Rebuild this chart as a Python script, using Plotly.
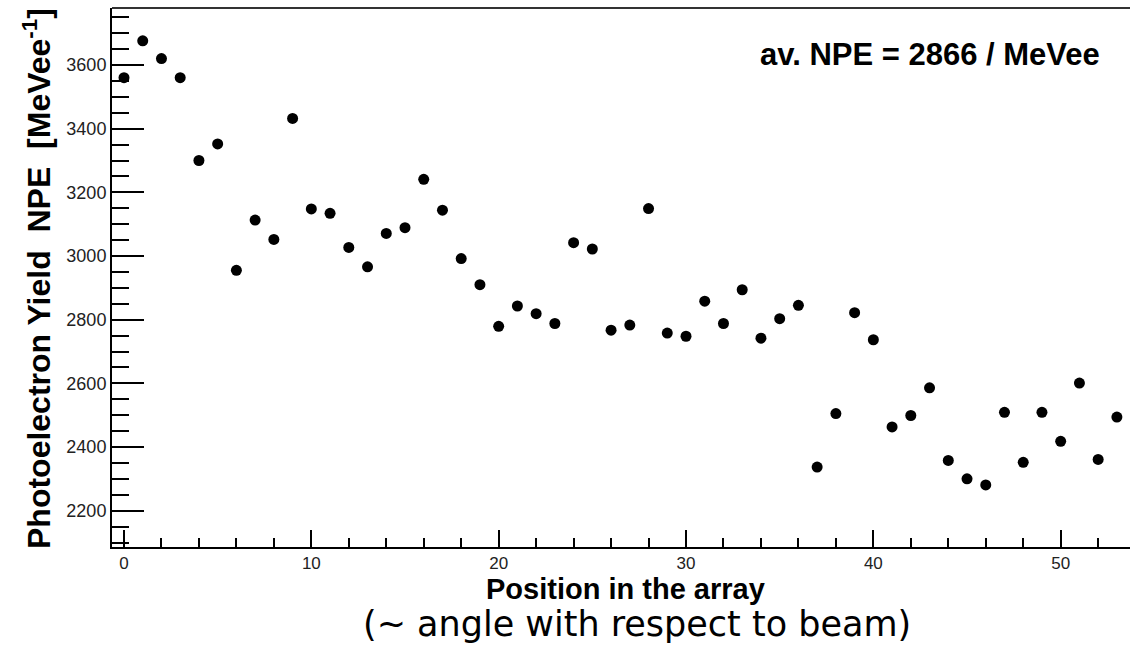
import plotly.graph_objects as go

position = list(range(54))
npe = [3560, 3676, 3620, 3560, 3300, 3352, 2955, 3113, 3052, 3432,
       3148, 3134, 3027, 2966, 3071, 3089, 3241, 3144, 2992, 2910,
       2779, 2843, 2819, 2788, 3042, 3022, 2767, 2783, 3149, 2758,
       2748, 2858, 2788, 2894, 2742, 2803, 2845, 2337, 2505, 2822,
       2737, 2463, 2499, 2586, 2358, 2300, 2281, 2509, 2352, 2509,
       2418, 2601, 2361, 2494]

x_tick_vals = [0, 10, 20, 30, 40, 50]
y_tick_vals = [2200, 2400, 2600, 2800, 3000, 3200, 3400, 3600]

W, H = 1130, 647
ML, MR, MT, MB = 112, 0, 8, 100
PW = W - ML - MR
PH = H - MT - MB

def px_x(p):
    return (p - ML) / PW

def px_y(p):
    return 1 - (p - MT) / PH

fig = go.Figure()
fig.add_trace(go.Scatter(
    x=position, y=npe, mode="markers",
    marker=dict(color="black", size=11, symbol="circle"),
    showlegend=False, hoverinfo="x+y",
))

tickfont = dict(family="Liberation Sans, Arial, sans-serif", size=17, color="#222")

fig.update_layout(
    width=W, height=H,
    margin=dict(l=ML, r=MR, t=MT, b=MB, pad=0),
    paper_bgcolor="white", plot_bgcolor="white",
    xaxis=dict(
        range=[-0.64, 53.70], tickvals=x_tick_vals,
        ticks="inside", ticklen=17, tickwidth=1.5, tickcolor="black",
        minor=dict(dtick=2, tick0=0, ticks="inside", ticklen=9, tickwidth=1.5, tickcolor="black"),
        showline=True, linecolor="black", linewidth=2,
        showgrid=False, zeroline=False, tickfont=tickfont,
    ),
    yaxis=dict(
        range=[2086, 3779], tickvals=y_tick_vals,
        ticks="inside", ticklen=32, tickwidth=1.5, tickcolor="black",
        minor=dict(dtick=50, tick0=0, ticks="inside", ticklen=17, tickwidth=1.5, tickcolor="black"),
        showline=True, linecolor="black", linewidth=2,
        showgrid=False, zeroline=False,
        tickfont=dict(family="Liberation Sans, Arial, sans-serif", size=18, color="#222"),
    ),
    shapes=[dict(type="line", xref="paper", yref="paper", x0=0, x1=1, y0=1, y1=1,
                 line=dict(color="#333", width=2))],
)

fig.add_annotation(
    text="<b>Photoelectron Yield  NPE  [MeVee<sup>-1</sup>]</b>",
    xref="paper", yref="paper", x=px_x(37), y=px_y(279),
    xanchor="center", yanchor="middle", textangle=-90, showarrow=False,
    font=dict(family="Liberation Sans, Arial, sans-serif", size=32, color="black"),
)
fig.add_annotation(
    text="<b>Position in the array</b>",
    xref="paper", yref="paper", x=px_x(625), y=px_y(589),
    xanchor="center", yanchor="middle", showarrow=False, borderpad=0,
    font=dict(family="Liberation Sans, Arial, sans-serif", size=29, color="black"),
)
fig.add_annotation(
    text="(~ angle with respect to beam)",
    xref="paper", yref="paper", x=px_x(637), y=px_y(624),
    xanchor="center", yanchor="middle", showarrow=False, borderpad=0,
    font=dict(family="DejaVu Sans, sans-serif", size=35, color="black"),
)
fig.add_annotation(
    text="<b>av. NPE = 2866 / MeVee</b>",
    xref="paper", yref="paper", x=px_x(1102), y=px_y(55),
    xanchor="right", yanchor="middle", showarrow=False,
    font=dict(family="Liberation Sans, Arial, sans-serif", size=31, color="black"),
)

fig.write_html("out.html")
